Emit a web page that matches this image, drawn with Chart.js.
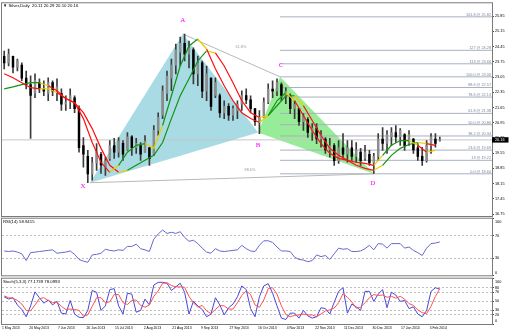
<!DOCTYPE html>
<html>
<head>
<meta charset="utf-8">
<script src="https://cdn.jsdelivr.net/npm/chart.js@4.4.1/dist/chart.umd.min.js"></script>
<style>
  body { margin: 0; background: #fff; }
  #wrap { position: relative; width: 510px; height: 333px; overflow: hidden; background: #fff; }
  canvas { position: absolute; left: 0; }
</style>
</head>
<body>
<div id="wrap">
  <canvas id="priceChart" width="510" height="222" style="top:0px"></canvas>
  <canvas id="rsiChart" width="510" height="70" style="top:212px"></canvas>
  <canvas id="stochChart" width="510" height="61" style="top:272px"></canvas>
</div>
<script>
const symbol = 'Silver,Daily';

// one candle = two trading days
const opens = [24.0,23.7,24.0,23.5,23.6,23.0,22.7,22.3,22.8,22.5,
  22.3,22.8,22.4,22.3,21.8,21.9,22.1,21.6,19.9,19.4,
  18.6,19.1,19.5,18.9,19.3,19.9,19.6,20.0,19.7,20.3,
  19.8,19.9,19.6,19.8,19.5,20.6,21.3,22.3,23.0,23.6,
  24.2,24.6,24.1,24.3,23.2,23.7,22.4,23.0,22.2,22.2,
  21.4,21.7,21.3,21.5,21.8,22.2,22.0,21.6,21.0,21.2,
  21.9,22.5,22.4,22.7,22.2,22.2,21.6,21.6,21.0,21.1,
  20.5,20.7,20.2,20.2,19.7,19.9,19.2,19.8,19.5,19.8,
  19.4,19.6,19.3,19.5,19.1,19.4,20.2,20.0,20.3,20.5,
  20.3,20.4,20.0,20.2,19.8,19.4,19.2,19.9,20.2,20.11];
const highs = [24.25,24.34,24.02,23.88,23.70,23.33,23.11,23.20,22.97,22.88,
  23.02,22.88,22.97,22.51,22.19,22.51,22.19,21.73,20.27,19.68,
  19.36,19.99,19.59,19.36,20.13,20.23,20.27,20.13,20.50,20.36,
  20.23,20.04,20.36,19.82,20.82,21.41,22.65,23.33,23.88,24.57,
  24.89,25.03,24.71,24.39,24.02,23.79,23.56,23.02,23.02,22.28,
  21.96,21.83,21.73,21.96,22.42,22.51,22.19,21.60,21.51,22.10,
  22.74,22.88,22.97,22.79,22.56,22.28,21.96,21.60,21.37,21.19,
  20.91,20.91,20.59,20.27,20.23,19.99,20.13,20.45,20.13,20.13,
  20.04,19.77,19.91,19.68,19.54,20.45,20.73,20.59,20.73,20.82,
  20.68,20.45,20.59,20.23,19.99,19.82,20.13,20.45,20.45,20.29];
const lows = [23.43,23.56,23.24,23.33,22.88,22.51,20.23,22.10,22.33,22.19,
  21.96,22.19,21.96,21.51,21.51,21.60,21.41,19.59,18.90,18.19,
  18.31,18.76,18.62,18.53,19.22,19.31,19.36,19.22,19.68,19.45,
  19.54,19.22,19.59,18.99,19.45,20.36,21.14,21.96,22.42,23.20,
  23.56,23.79,23.47,22.74,22.65,22.10,21.96,21.51,22.10,21.19,
  21.14,21.05,21.05,21.14,21.51,21.83,21.41,20.82,20.45,21.19,
  21.83,22.10,22.19,21.96,21.83,21.37,21.14,20.82,20.59,20.27,
  20.13,19.99,19.82,19.54,19.36,18.99,19.08,19.31,19.13,19.22,
  19.13,18.99,19.22,18.99,18.62,19.22,19.68,19.54,19.91,20.04,
  19.91,19.68,19.91,19.54,19.22,18.99,19.13,19.54,19.82,20.10];
const closes = [23.7,24.1,23.5,23.8,23.0,22.7,22.2,22.9,22.5,22.4,
  22.8,22.4,22.6,21.8,21.9,22.2,21.6,19.8,19.5,18.6,
  19.1,19.6,19.0,19.2,19.9,19.6,20.1,19.5,20.3,19.8,
  20.0,19.5,20.1,19.3,20.6,21.2,22.4,23.1,23.6,24.3,
  24.6,24.1,24.4,23.2,23.7,22.4,23.2,21.7,22.8,21.4,
  21.7,21.3,21.6,21.8,22.2,22.0,21.6,21.0,21.2,21.9,
  22.5,22.4,22.8,22.2,22.4,21.6,21.8,21.0,21.2,20.5,
  20.7,20.2,20.4,19.7,19.9,19.2,19.8,19.5,19.8,19.4,
  19.7,19.2,19.6,19.1,19.4,20.2,20.0,20.4,20.5,20.3,
  20.6,19.9,20.4,19.7,19.4,19.2,19.9,20.3,20.0,20.16];

// moving averages, read every second candle
const maStep = 2;
const maFast = [23.20,23.02,22.79,22.56,22.51,22.51,22.33,22.06,21.87,21.14,
  20.04,19.13,18.67,18.99,19.59,19.91,19.99,19.77,20.82,22.19,
  23.56,24.48,24.80,24.34,23.43,22.65,21.96,21.41,21.14,20.96,
  21.28,21.96,22.33,21.96,21.28,20.59,19.99,19.54,19.31,19.22,
  19.13,19.08,18.99,19.45,19.91,20.13,20.13,19.91,19.59,19.68];
const maSlow = [22.51,22.60,22.70,22.79,22.79,22.65,22.42,22.06,21.87,21.41,
  20.68,19.77,18.99,18.67,18.76,18.99,19.22,19.45,20.04,21.14,
  22.19,22.97,23.79,24.25,24.16,23.56,22.79,21.96,21.41,21.19,
  21.28,21.73,22.19,22.19,21.73,21.05,20.36,19.77,19.45,19.22,
  18.99,18.85,18.76,18.99,19.45,19.77,19.95,20.04,19.99,19.91];

const rsi = [43,42,43,41,38,26,40,41,42,43,
  44,45,39,40,41,43,37,28,25,23,
  36,37,39,46,44,43,45,44,51,51,
  55,47,45,42,64,73,80,74,76,74,
  77,67,60,62,56,48,41,39,47,43,
  42,43,44,45,53,47,43,42,53,61,
  61,58,50,43,43,42,32,28,27,24,
  26,36,33,35,28,38,48,46,47,42,
  42,43,47,53,45,56,55,48,56,56,
  56,48,50,44,40,35,48,56,57,58.9415];
const stochK = [60,55,58,42,32,16,40,71,58,46,
  53,42,50,24,22,52,22,15,14,30,
  74,70,30,40,76,78,40,22,68,66,
  26,30,55,42,86,92,92,90,74,82,
  90,70,22,50,40,32,16,22,58,42,
  20,36,44,60,84,76,34,16,60,84,
  89,68,40,13,10,24,24,13,30,18,
  13,16,36,34,22,48,72,80,24,44,
  38,30,72,72,50,66,76,36,70,64,
  50,52,34,38,22,16,30,72,80,77.1739];
const stochD = [62,58,57,52,44,30,29,42,56,58,
  52,47,48,39,32,33,32,30,17,20,
  39,58,58,47,49,65,65,47,43,52,
  53,41,37,42,61,73,90,91,85,82,
  82,81,61,47,37,41,29,23,32,41,
  40,33,33,47,63,73,65,42,37,53,
  78,80,66,40,21,16,19,20,22,20,
  20,16,22,29,31,35,47,67,59,49,
  35,37,47,58,65,63,64,59,61,57,
  61,55,45,41,31,25,23,39,61,78.0993];

const dateLabels = ['1 May 2013','20 May 2013','7 Jun 2013','26 Jun 2013','15 Jul 2013','2 Aug 2013',
  '21 Aug 2013','9 Sep 2013','27 Sep 2013','16 Oct 2013','4 Nov 2013','22 Nov 2013',
  '11 Dec 2013','30 Dec 2013','17 Jan 2014','5 Feb 2014'];
const dateTicks = [-0.5,5.7,12.2,18.7,25.2,31.7,38.2,44.7,51.2,57.7,64.2,70.7,77.2,83.7,90.2,96.7];
const priceTicks = [25.85,25.15,24.45,23.75,23.05,22.35,21.65,20.95,20.25,19.55,18.85,18.15,17.45,16.75];
const rsiTicks = [100, 70, 30, 0];
const rsiLevels = [70, 30];
const stochTicks = [100, 80, 70, 50, 30, 20, 0];
const stochLevels = [80, 70, 50, 30, 20];

// harmonic pattern X-A-B-C-D and the fib ladder drawn from C
const patternNames = ['X', 'A', 'B', 'C', 'D'];
const patternBars = [19.5, 40.6, 57.7, 62.7, 84.0];
const patternPrices = [18.19, 25.03, 20.50, 23.06, 18.60];
const ratioLabels = ['61.8%', '88.6%'];
const fibLevels = ['161.8', '127', '113', '100.0', '88.6', '78.6', '61.8', '50.0', '38.2', '23.6', '13', '0.0'];
const fibPrices = [25.82, 24.28, 23.66, 23.06, 22.57, 22.13, 21.38, 20.86, 20.34, 19.69, 19.22, 18.60];

const xMin = -0.5, xMax = 110.86;
const FONT = "'Liberation Sans', Arial, sans-serif";
const lastBar = closes.length - 1;

Chart.defaults.elements.point.radius = 0;
Chart.defaults.elements.line.tension = 0;

const at = (x, y) => ({ x, y });
const pts = {};
patternNames.forEach((n, k) => { pts[n] = at(patternBars[k], patternPrices[k]); });

const letterOffset = { X: [-7, 3], A: [0, -14], B: [0, 13], C: [1, -12], D: [-1, 9] };
const ratioLegs = [['A', 'C', 9.5, -8], ['X', 'D', 18, -8]];

const slopeColour = values => seg => {
  const i = seg.p1DataIndex;
  const up = values[i] >= values[i - 1];
  const wasUp = i > 1 ? values[i - 1] >= values[i - 2] : up;
  if (up !== wasUp) return '#e8cf00';
  return up ? '#139413' : '#ff1010';
};

function frame(chart) {
  const { ctx, chartArea: a } = chart;
  ctx.save();
  ctx.strokeStyle = '#7a7a7a';
  ctx.lineWidth = 1;
  ctx.strokeRect(a.left - 0.5, a.top - 0.5, a.right - a.left + 1, a.bottom - a.top + 1);
  ctx.restore();
}

function header(chart, text) {
  const { ctx, chartArea: a } = chart;
  ctx.save();
  ctx.font = '4.3px ' + FONT;
  ctx.fillStyle = '#000';
  ctx.textAlign = 'left';
  ctx.textBaseline = 'middle';
  ctx.fillText(text, a.left + 1, a.top + 3);
  ctx.restore();
}

function dateAxis(chart) {
  const { ctx, chartArea: a, scales: { x } } = chart;
  ctx.save();
  ctx.font = '3.4px ' + FONT;
  ctx.fillStyle = '#000';
  ctx.textAlign = 'left';
  ctx.textBaseline = 'middle';
  dateTicks.forEach((t, k) => ctx.fillText(dateLabels[k], x.getPixelForValue(t), a.bottom + 4.5));
  ctx.restore();
}

const priceOverlay = {
  id: 'priceOverlay',
  afterDraw(chart) {
    const { ctx, chartArea: a, scales: { x, y } } = chart;
    frame(chart);
    ctx.save();

    ctx.font = '3.8px ' + FONT;
    ctx.fillStyle = '#7b889e';
    ctx.textAlign = 'right';
    ctx.textBaseline = 'bottom';
    fibLevels.forEach((lv, k) => {
      ctx.fillText(lv + ' @ ' + fibPrices[k].toFixed(2), a.right - 1, y.getPixelForValue(fibPrices[k]) - 0.2);
    });

    ctx.fillStyle = '#9a9a9a';
    ctx.textAlign = 'center';
    ctx.textBaseline = 'middle';
    ratioLegs.forEach(([p, q, dx, dy], k) => {
      const mx = (x.getPixelForValue(pts[p].x) + x.getPixelForValue(pts[q].x)) / 2;
      const my = (y.getPixelForValue(pts[p].y) + y.getPixelForValue(pts[q].y)) / 2;
      ctx.fillText(ratioLabels[k], mx + dx, my + dy);
    });

    ctx.font = "7px 'Liberation Serif', serif";
    ctx.fillStyle = '#ff00ff';
    patternNames.forEach(n => {
      const [dx, dy] = letterOffset[n];
      ctx.fillText(n, x.getPixelForValue(pts[n].x) + dx, y.getPixelForValue(pts[n].y) + dy);
    });

    const yp = y.getPixelForValue(closes[lastBar]);
    ctx.fillStyle = '#000';
    ctx.fillRect(a.right, yp - 2.7, 16.5, 5.4);
    ctx.fillStyle = '#fff';
    ctx.font = '3.8px ' + FONT;
    ctx.textAlign = 'left';
    ctx.fillText(closes[lastBar].toFixed(2), a.right + 3, yp);
    ctx.restore();

    header(chart, '\u25BC ' + symbol + '  ' + [opens, highs, lows, closes].map(s => s[lastBar].toFixed(2)).join(' '));
  }
};

const lineSet = (data, colour, order, extra) => Object.assign({
  type: 'line', data, borderColor: colour, borderWidth: 1, pointRadius: 0, fill: false, order
}, extra || {});

const none = 'rgba(0,0,0,0)';
const priceDatasets = [
  lineSet([pts.X, pts.A, pts.B], none, 30, { fill: '+1', backgroundColor: '#a8dbe3' }),
  lineSet([pts.X, pts.B], none, 30),
  lineSet([pts.B, pts.C, pts.D], none, 30, { fill: '+1', backgroundColor: '#97ec97' }),
  lineSet([pts.B, pts.D], none, 30),
  lineSet([pts.A, pts.C], '#b8b8b8', 25),
  lineSet([pts.X, pts.D], '#b8b8b8', 25),
  ...fibPrices.map(p => lineSet([at(pts.C.x, p), at(xMax, p)], '#a9b1be', 25)),
  lineSet([at(xMin, closes[lastBar]), at(xMax, closes[lastBar])], '#c6c6c6', 26),
  {
    type: 'bar', order: 12, grouped: false, barThickness: 1, backgroundColor: '#3c3c3c',
    data: closes.map((c, i) => at(i, [lows[i], highs[i]]))
  },
  {
    type: 'bar', order: 11, grouped: false, barThickness: 1.8, minBarLength: 1,
    backgroundColor: c => closes[c.dataIndex] >= opens[c.dataIndex] ? '#8c8c8c' : '#000',
    data: closes.map((c, i) => at(i, [opens[i], c]))
  },
  lineSet(maSlow.map((v, k) => at(k * maStep, v)), '#139413', 5, { borderWidth: 1.2, segment: { borderColor: slopeColour(maSlow) } }),
  lineSet(maFast.map((v, k) => at(k * maStep, v)), '#ff1010', 4, { borderWidth: 1.2, segment: { borderColor: slopeColour(maFast) } })
];

new Chart(document.getElementById('priceChart'), {
  type: 'bar',
  data: { datasets: priceDatasets },
  options: {
    responsive: false,
    animation: false,
    devicePixelRatio: 1,
    layout: { padding: { left: 2, top: 2, right: 0, bottom: 6 } },
    plugins: { legend: { display: false }, tooltip: { enabled: false } },
    scales: {
      x: { type: 'linear', min: xMin, max: xMax, offset: false, display: false },
      y: {
        position: 'right',
        min: 16.659,
        max: 26.444,
        afterFit: s => { s.width = 18; },
        afterBuildTicks: s => { s.ticks = priceTicks.map(v => ({ value: v })); },
        ticks: { autoSkip: false, padding: 1, color: '#000', font: { family: FONT, size: 3.8 }, callback: v => v.toFixed(2) },
        grid: { drawOnChartArea: false, tickLength: 2, tickColor: '#444' },
        border: { display: false }
      }
    }
  },
  plugins: [priceOverlay]
});

function oscillator(id, datasets, tickValues, levels, title, showDates) {
  return new Chart(document.getElementById(id), {
    type: 'line',
    data: { datasets },
    options: {
      responsive: false,
      animation: false,
      devicePixelRatio: 1,
      layout: { padding: { left: 2, top: 6, right: 0, bottom: showDates ? 9 : 6 } },
      plugins: { legend: { display: false }, tooltip: { enabled: false } },
      scales: {
        x: { type: 'linear', min: xMin, max: xMax, offset: false, display: false },
        y: {
          position: 'right', min: 0, max: 100,
          afterFit: s => { s.width = 18; },
          afterBuildTicks: s => { s.ticks = tickValues.map(v => ({ value: v })); },
          ticks: {
            autoSkip: false, padding: 1, color: '#000', font: { family: FONT, size: 3.8, lineHeight: 1.5 },
            callback: v => v === 100 ? ['', '100'] : v === 0 ? ['0', ''] : String(v)
          },
          grid: {
            color: c => (c.tick && levels.includes(c.tick.value)) ? '#bdbdbd' : none,
            tickColor: '#444', tickLength: 2
          },
          border: { display: false, dash: [2, 2] }
        }
      }
    },
    plugins: [{
      id: id + 'Overlay',
      afterDraw(chart) {
        frame(chart);
        header(chart, title);
        if (showDates) dateAxis(chart);
      }
    }]
  });
}

oscillator('rsiChart',
  [lineSet(rsi.map((v, i) => at(i, v)), '#6868cc', 1)],
  rsiTicks, rsiLevels, 'RSI(14) ' + rsi[lastBar].toFixed(4), false);

oscillator('stochChart',
  [lineSet(stochD.map((v, i) => at(i, v)), '#ff5050', 1),
   lineSet(stochK.map((v, i) => at(i, v)), '#4848d8', 2)],
  stochTicks, stochLevels,
  'Stoch(5,3,3) ' + stochK[lastBar].toFixed(4) + ' ' + stochD[lastBar].toFixed(4), true);
</script>
</body>
</html>
